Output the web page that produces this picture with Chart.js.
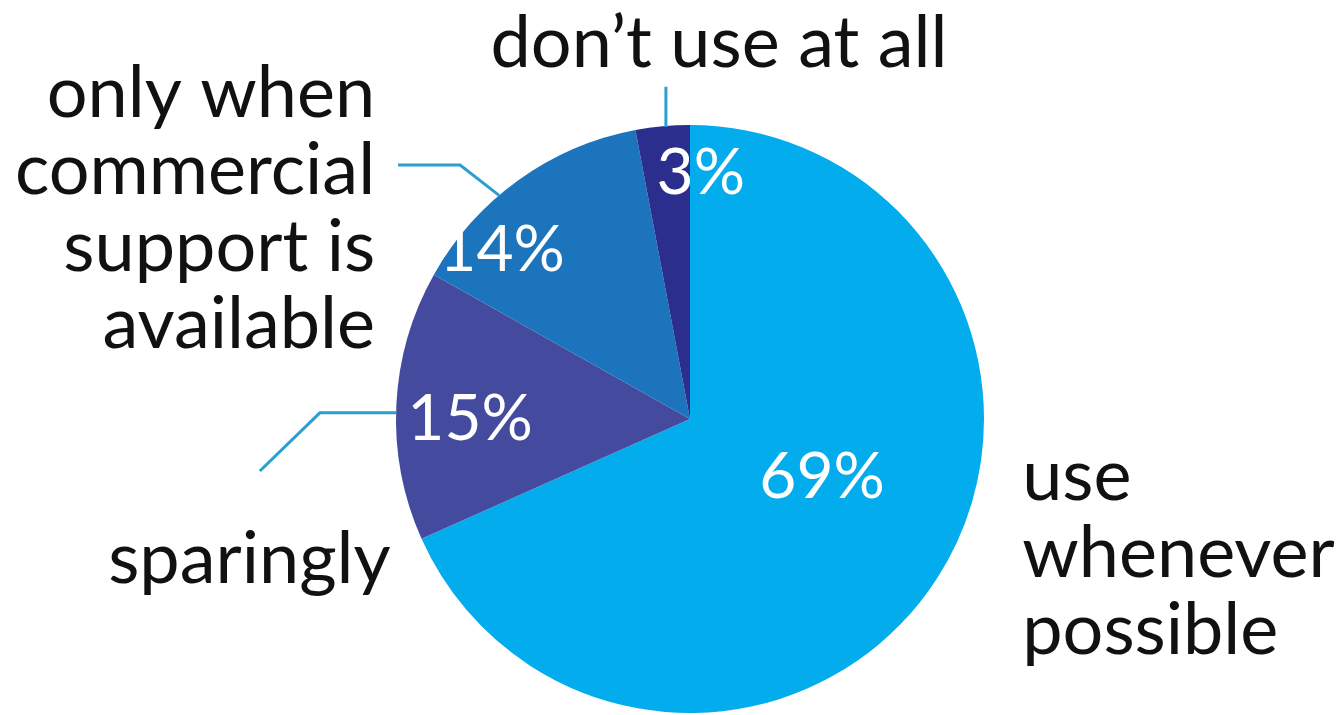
<!DOCTYPE html>
<html>
<head>
<meta charset="utf-8">
<script src="https://cdn.jsdelivr.net/npm/chart.js@4"></script>
<style>
  html, body { margin: 0; padding: 0; background: #ffffff; }
  #wrap { width: 1338px; height: 715px; position: relative; }
</style>
</head>
<body>
<div id="wrap"><canvas id="c" width="1338" height="715"></canvas></div>
<script>
// ---- data ----
const categories = ["use whenever possible", "sparingly", "only when commercial support is available", "don\u2019t use at all"];
const values = [69, 15, 14, 3];
const valueLabels = ["69%", "15%", "14%", "3%"];
const categoryLines = [["use", "whenever", "possible"], ["sparingly"], ["only when", "commercial", "support is", "available"], ["don\u2019t use at all"]];

// ---- styles ----
const sliceColors = ["#03ACEC", "#444B9E", "#1B74BC", "#2C2E8E"];
const leaderColor = "#2A9FD0";
const fontFamily = "Lato, 'Open Sans', sans-serif";

// percent label placement: angle (deg clockwise from top) and radius fraction
const pctPlacement = [
  { ang: 113.0, rf: 0.488 },
  { ang: 270.4, rf: 0.748 },
  { ang: 312.3, rf: 0.864 },
  { ang: 2.5,   rf: 0.844 }
];

function polar(cx, cy, r, deg) {
  const a = deg * Math.PI / 180;
  return { x: cx + r * Math.sin(a), y: cy - r * Math.cos(a) };
}

const labelPlugin = {
  id: 'labelPlugin',
  afterDatasetsDraw(chart) {
    const ctx = chart.ctx;
    const meta = chart.getDatasetMeta(0);
    const arc0 = meta.data[0];
    const cx = arc0.x, cy = arc0.y, r = arc0.outerRadius;
    ctx.save();

    // leader lines
    ctx.strokeStyle = leaderColor;
    ctx.lineWidth = 3;
    ctx.lineJoin = 'miter';
    // don't use at all : vertical from top
    const dTop = polar(cx, cy, r, -4.7);
    ctx.beginPath();
    ctx.moveTo(dTop.x, dTop.y + 1);
    ctx.lineTo(dTop.x, cy - r * 1.13);
    ctx.stroke();
    // only when commercial...
    const cEdge = polar(cx, cy, r, 319.5);
    ctx.beginPath();
    ctx.moveTo(cEdge.x, cEdge.y);
    ctx.lineTo(cx - r * 0.782, cy - r * 0.864);
    ctx.lineTo(cx - r * 0.993, cy - r * 0.864);
    ctx.stroke();
    // sparingly
    const sEdge = polar(cx, cy, r, 271.2);
    ctx.beginPath();
    ctx.moveTo(sEdge.x, sEdge.y);
    ctx.lineTo(cx - r * 1.259, sEdge.y);
    ctx.lineTo(cx - r * 1.463, cy + r * 0.177);
    ctx.stroke();

    // percent labels
    ctx.fillStyle = '#ffffff';
    ctx.font = "64px " + fontFamily;
    ctx.textAlign = 'center';
    ctx.textBaseline = 'alphabetic';
    meta.data.forEach((arc, i) => {
      const p = polar(cx, cy, r * pctPlacement[i].rf, pctPlacement[i].ang);
      ctx.fillText(valueLabels[i], p.x, p.y + 23);
    });

    // category labels
    ctx.fillStyle = '#111111';
    ctx.font = "72px " + fontFamily;
    const lh = 77;
    // use whenever possible (left aligned, right of pie)
    ctx.textAlign = 'left';
    categoryLines[0].forEach((t, k) => ctx.fillText(t, cx + r * 1.13, cy + 81 + k * lh));
    // sparingly (right aligned)
    ctx.textAlign = 'right';
    categoryLines[1].forEach((t, k) => ctx.fillText(t, cx - r * 1.018, cy + 164 + k * lh));
    // only when commercial support is available (right aligned)
    categoryLines[2].forEach((t, k) => ctx.fillText(t, cx - r * 1.071, cy - 302 + k * lh));
    // don't use at all (centered above)
    ctx.textAlign = 'center';
    categoryLines[3].forEach((t, k) => ctx.fillText(t, cx + 29, cy - 352 + k * lh));

    ctx.restore();
  }
};

new Chart(document.getElementById('c'), {
  type: 'pie',
  data: {
    labels: categories,
    datasets: [{
      data: values,
      backgroundColor: sliceColors,
      borderWidth: 0
    }]
  },
  options: {
    responsive: false,
    animation: false,
    layout: { padding: { top: 125, bottom: 2, left: 396, right: 354 } },
    plugins: {
      legend: { display: false },
      tooltip: { enabled: false },
      title: { display: false }
    }
  },
  plugins: [labelPlugin]
});
</script>
</body>
</html>
